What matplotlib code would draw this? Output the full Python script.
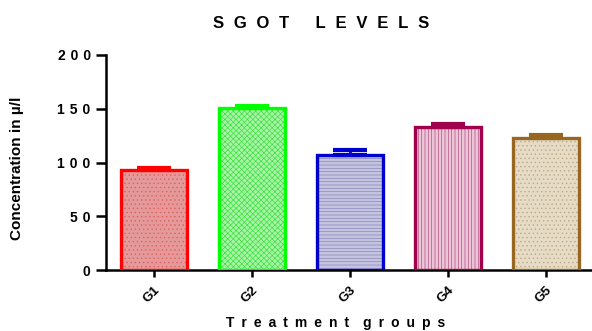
import matplotlib.pyplot as plt

groups = ["G1", "G2", "G3", "G4", "G5"]
means = [93, 151, 107, 133, 123]
sem = [2, 1.5, 4.5, 3, 2.5]
yticks = [0, 50, 100, 150, 200]

edge_colors = ["#ff0000", "#00ff00", "#0000cc", "#a0004c", "#996622"]
fill_colors = ["#e49a9a", "#a8f5a8", "#c4c4e0", "#ecc6d8", "#e6dcc6"]
hatch_colors = ["#e06060", "#40e040", "#8888bb", "#b05080", "#bba888"]
hatches = ["....", "xxxxxx", "-----", "|||||", "...."]

EN = "\u2002"
EM = "\u2003"
THIN = "\u2009"
HAIR = "\u200a"

def spaced(s, gap, word_gap):
    return word_gap.join(gap.join(w) for w in s.split(" "))

plt.rcParams["font.family"] = ["Liberation Sans", "DejaVu Sans"]
plt.rcParams["font.weight"] = "bold"
plt.rcParams["hatch.linewidth"] = 0.5

fig = plt.figure(figsize=(5.92, 3.31), dpi=100)
ax = fig.add_axes([0.179, 0.184, 0.821, 0.65])

x = list(range(len(groups)))
for i in x:
    ax.bar(i, means[i], width=0.68, color=fill_colors[i], hatch=hatches[i],
           edgecolor=hatch_colors[i], linewidth=0, zorder=2)
    ax.bar(i, means[i], width=0.68, fill=False, edgecolor=edge_colors[i],
           linewidth=2.4, zorder=3)
    ax.errorbar(i, means[i], yerr=[[0], [sem[i]]], color=edge_colors[i],
                capsize=12, capthick=3, elinewidth=2, zorder=4)

ax.set_xlim(-0.49, 4.47)
ax.set_ylim(0, 200)
ax.set_yticks(yticks)
ax.set_yticklabels([spaced(str(t), " " + HAIR, EM) for t in yticks],
                   fontsize=10, fontweight="bold")
ax.set_xticks(x)
ax.set_xticklabels(groups, rotation=45, fontsize=9.5, fontweight="bold",
                   ha="right", va="top", rotation_mode="anchor")

for s in ["top", "right"]:
    ax.spines[s].set_visible(False)
for s in ["left", "bottom"]:
    ax.spines[s].set_linewidth(1.8)
ax.tick_params(axis="y", width=1.8, length=7.5, pad=3.5)
ax.tick_params(axis="x", width=1.8, length=5, pad=5)

fig.text(0.543, 0.928, spaced("SGOT LEVELS", EN + HAIR, EM + EN + HAIR),
         ha="center", va="center", fontsize=12, fontweight="bold")
ax.set_ylabel("Concentration in µ/l", fontsize=11, fontweight="bold")
ax.yaxis.set_label_coords(-0.169, 0.472)
fig.text(0.567, 0.025, spaced("Treatment groups", EN, EM), ha="center",
         va="center", fontsize=10, fontweight="bold")

fig.savefig("out.png", dpi=100)
